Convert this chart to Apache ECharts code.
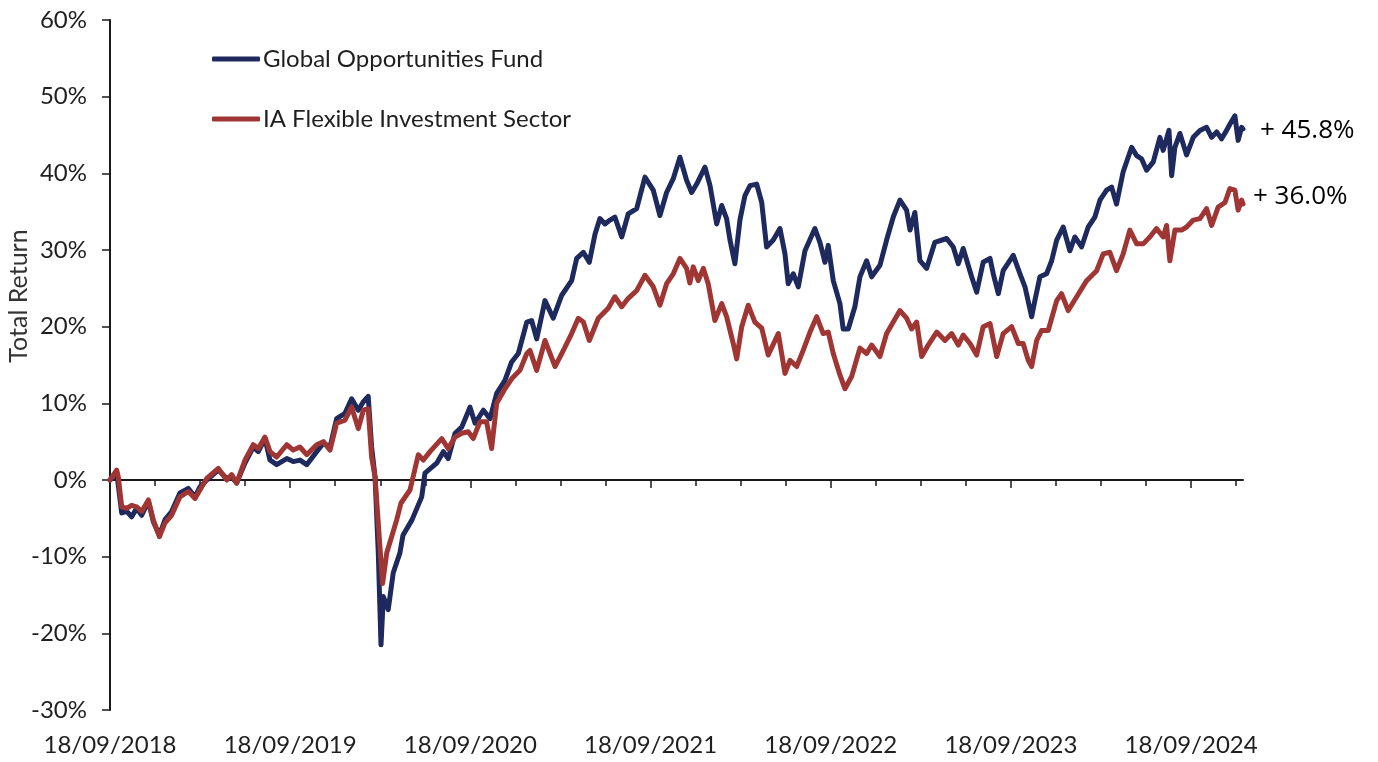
<!DOCTYPE html>
<html>
<head>
<meta charset="utf-8">
<script src="https://cdn.jsdelivr.net/npm/echarts@6/dist/echarts.min.js"></script>
<style>
  html, body { margin: 0; padding: 0; background: #ffffff; }
  #main { width: 1378px; height: 762px; }
</style>
</head>
<body>
<div id="main"></div>
<script>
// ---- Data (x = decimal year, y = total return in %) ----
const seriesNames = ['Global Opportunities Fund', 'IA Flexible Investment Sector'];

const xTickLabels = ['18/09/2018', '18/09/2019', '18/09/2020', '18/09/2021', '18/09/2022', '18/09/2023', '18/09/2024'];
const yTickValues = [-30, -20, -10, 0, 10, 20, 30, 40, 50, 60];
const endLabels = ['+ 45.8%', '+ 36.0%'];

const fundReturns = [
  [2018.712, 0.0], [2018.749, 1.0], [2018.777, -4.3], [2018.805, -4.1], [2018.832, -4.8], [2018.860, -3.7],
  [2018.888, -4.6], [2018.925, -2.8], [2018.952, -5.4], [2018.986, -7.2], [2019.017, -5.2], [2019.054, -4.1],
  [2019.100, -1.7], [2019.147, -1.1], [2019.184, -2.2], [2019.211, -0.9], [2019.249, 0.0], [2019.313, 1.3],
  [2019.360, 0.2], [2019.387, 0.4], [2019.415, -0.4], [2019.461, 2.2], [2019.507, 4.3], [2019.535, 3.7],
  [2019.572, 5.4], [2019.600, 2.6], [2019.637, 2.0], [2019.693, 2.8], [2019.729, 2.4], [2019.766, 2.6],
  [2019.804, 2.0], [2019.859, 3.7], [2019.896, 4.8], [2019.933, 4.3], [2019.970, 8.0], [2020.016, 8.7],
  [2020.053, 10.6], [2020.090, 9.1], [2020.118, 10.2], [2020.145, 10.9], [2020.164, 4.3], [2020.183, 0.4],
  [2020.201, -9.5], [2020.216, -21.5], [2020.229, -15.2], [2020.256, -16.9], [2020.284, -12.1], [2020.321, -9.5],
  [2020.338, -7.2], [2020.388, -5.2], [2020.442, -2.2], [2020.460, 0.9], [2020.525, 2.2], [2020.562, 3.7],
  [2020.589, 2.8], [2020.627, 6.1], [2020.664, 6.9], [2020.710, 9.5], [2020.738, 7.4], [2020.784, 9.1],
  [2020.821, 8.0], [2020.858, 11.3], [2020.904, 13.0], [2020.941, 15.4], [2020.978, 16.5], [2021.025, 20.6],
  [2021.052, 20.8], [2021.080, 18.4], [2021.126, 23.4], [2021.172, 21.1], [2021.219, 24.1], [2021.274, 26.0],
  [2021.302, 28.9], [2021.339, 29.7], [2021.372, 28.4], [2021.404, 32.1], [2021.431, 34.1], [2021.459, 33.4],
  [2021.487, 33.9], [2021.514, 34.3], [2021.552, 31.7], [2021.588, 34.7], [2021.635, 35.4], [2021.681, 39.5],
  [2021.727, 37.8], [2021.764, 34.5], [2021.801, 37.5], [2021.838, 39.3], [2021.875, 42.1], [2021.912, 39.1],
  [2021.940, 37.5], [2021.968, 38.6], [2022.014, 40.8], [2022.042, 38.4], [2022.079, 33.4], [2022.107, 35.8],
  [2022.134, 34.1], [2022.153, 31.3], [2022.180, 28.2], [2022.208, 33.9], [2022.236, 37.1], [2022.264, 38.4],
  [2022.301, 38.6], [2022.329, 36.2], [2022.356, 30.4], [2022.393, 31.3], [2022.430, 32.8], [2022.458, 29.5],
  [2022.476, 25.6], [2022.504, 26.9], [2022.532, 25.2], [2022.569, 29.9], [2022.624, 32.8], [2022.652, 31.0],
  [2022.680, 28.4], [2022.698, 30.6], [2022.726, 26.0], [2022.763, 23.0], [2022.781, 19.7], [2022.809, 19.7],
  [2022.846, 22.6], [2022.874, 26.5], [2022.911, 28.6], [2022.939, 26.5], [2022.985, 28.0], [2023.022, 31.3],
  [2023.059, 34.3], [2023.096, 36.5], [2023.133, 35.2], [2023.152, 32.6], [2023.179, 34.9], [2023.207, 28.6],
  [2023.244, 27.6], [2023.290, 31.0], [2023.355, 31.5], [2023.392, 30.4], [2023.420, 28.2], [2023.447, 30.2],
  [2023.494, 26.5], [2023.522, 24.5], [2023.558, 28.4], [2023.596, 28.9], [2023.614, 26.9], [2023.642, 24.3],
  [2023.669, 27.3], [2023.725, 29.3], [2023.762, 26.9], [2023.790, 25.2], [2023.827, 21.3], [2023.845, 23.4],
  [2023.873, 26.5], [2023.910, 26.9], [2023.938, 28.6], [2023.966, 31.3], [2024.002, 33.0], [2024.039, 29.9],
  [2024.067, 31.7], [2024.104, 30.4], [2024.141, 33.0], [2024.178, 34.3], [2024.206, 36.5], [2024.243, 37.8],
  [2024.271, 38.2], [2024.298, 36.0], [2024.335, 40.2], [2024.382, 43.4], [2024.410, 42.3], [2024.437, 41.9],
  [2024.465, 40.4], [2024.502, 41.5], [2024.539, 44.7], [2024.557, 43.0], [2024.589, 45.6], [2024.604, 39.7],
  [2024.622, 43.4], [2024.650, 45.2], [2024.687, 42.4], [2024.724, 44.7], [2024.761, 45.6], [2024.798, 46.0],
  [2024.826, 44.7], [2024.854, 45.4], [2024.881, 44.5], [2024.909, 45.6], [2024.927, 46.4], [2024.955, 47.5],
  [2024.973, 44.3], [2024.992, 46.0], [2025.000, 45.8]
];

const sectorReturns = [
  [2018.712, 0.0], [2018.749, 1.3], [2018.758, 0.4], [2018.777, -3.5], [2018.805, -3.7], [2018.832, -3.3],
  [2018.860, -3.5], [2018.888, -4.1], [2018.925, -2.6], [2018.952, -5.2], [2018.986, -7.4], [2019.017, -5.6],
  [2019.054, -4.6], [2019.100, -2.2], [2019.147, -1.5], [2019.184, -2.4], [2019.211, -1.3], [2019.249, 0.2],
  [2019.313, 1.5], [2019.360, 0.0], [2019.387, 0.7], [2019.415, -0.4], [2019.461, 2.6], [2019.507, 4.6],
  [2019.535, 4.1], [2019.572, 5.6], [2019.600, 3.7], [2019.637, 3.0], [2019.693, 4.6], [2019.729, 3.9],
  [2019.766, 4.3], [2019.804, 3.3], [2019.859, 4.6], [2019.896, 5.0], [2019.933, 3.9], [2019.970, 7.4],
  [2020.016, 7.8], [2020.053, 9.5], [2020.090, 6.7], [2020.118, 9.1], [2020.145, 9.3], [2020.164, 3.0],
  [2020.183, 0.4], [2020.210, -8.7], [2020.225, -13.5], [2020.248, -9.5], [2020.275, -7.4], [2020.303, -5.2],
  [2020.327, -3.0], [2020.377, -1.3], [2020.423, 3.3], [2020.451, 2.6], [2020.488, 3.7], [2020.553, 5.4],
  [2020.589, 4.1], [2020.627, 5.6], [2020.664, 6.1], [2020.700, 6.3], [2020.728, 5.4], [2020.765, 7.6],
  [2020.802, 7.6], [2020.830, 4.1], [2020.858, 10.0], [2020.904, 11.9], [2020.941, 13.2], [2020.987, 14.3],
  [2021.025, 16.5], [2021.043, 16.9], [2021.080, 14.3], [2021.126, 18.2], [2021.182, 14.8], [2021.228, 16.9],
  [2021.274, 19.1], [2021.311, 21.1], [2021.339, 20.6], [2021.372, 18.2], [2021.422, 21.1], [2021.477, 22.4],
  [2021.514, 23.9], [2021.552, 22.6], [2021.588, 23.7], [2021.635, 24.7], [2021.681, 26.7], [2021.727, 25.2],
  [2021.764, 22.8], [2021.801, 25.6], [2021.838, 26.9], [2021.875, 28.9], [2021.912, 27.6], [2021.930, 25.7],
  [2021.949, 27.8], [2021.977, 26.0], [2022.005, 27.6], [2022.032, 25.6], [2022.069, 20.8], [2022.107, 23.0],
  [2022.134, 21.3], [2022.171, 17.8], [2022.190, 15.8], [2022.218, 20.0], [2022.254, 22.8], [2022.291, 20.6],
  [2022.329, 19.8], [2022.365, 16.3], [2022.421, 19.1], [2022.458, 13.9], [2022.486, 15.6], [2022.523, 14.8],
  [2022.559, 16.9], [2022.597, 19.3], [2022.634, 21.3], [2022.670, 19.1], [2022.698, 19.3], [2022.726, 16.5],
  [2022.763, 13.7], [2022.791, 11.9], [2022.828, 13.5], [2022.874, 17.2], [2022.911, 16.5], [2022.939, 17.6],
  [2022.985, 16.1], [2023.022, 19.1], [2023.059, 20.6], [2023.096, 22.1], [2023.133, 21.1], [2023.161, 19.7],
  [2023.189, 20.6], [2023.217, 16.1], [2023.253, 17.6], [2023.300, 19.3], [2023.346, 18.2], [2023.383, 19.1],
  [2023.420, 17.6], [2023.447, 18.9], [2023.485, 17.8], [2023.522, 16.3], [2023.558, 20.0], [2023.596, 20.4],
  [2023.633, 16.1], [2023.669, 19.1], [2023.716, 20.0], [2023.753, 17.8], [2023.780, 17.8], [2023.808, 15.6],
  [2023.827, 14.8], [2023.855, 18.2], [2023.882, 19.5], [2023.919, 19.5], [2023.966, 23.4], [2023.993, 24.3],
  [2024.030, 22.1], [2024.077, 23.9], [2024.132, 26.0], [2024.188, 27.3], [2024.224, 29.5], [2024.261, 29.7],
  [2024.298, 27.3], [2024.335, 29.5], [2024.372, 32.6], [2024.410, 30.8], [2024.446, 30.8], [2024.483, 31.7],
  [2024.520, 32.8], [2024.557, 31.7], [2024.576, 33.2], [2024.594, 28.6], [2024.622, 32.6], [2024.659, 32.6],
  [2024.687, 33.0], [2024.724, 33.9], [2024.761, 34.1], [2024.798, 35.4], [2024.826, 33.2], [2024.862, 35.6],
  [2024.900, 36.2], [2024.927, 38.0], [2024.955, 37.8], [2024.973, 35.2], [2024.992, 36.5], [2025.000, 36.0]
];

// ---- Axis helpers ----
const X_MIN = 2018.712;
const X_MAX = 2025.0;
const yearPos = xTickLabels.map(s => parseInt(s.split('/')[2], 10) + 0.712);
const quarterPos = [];
for (let k = 1; k <= 25; k++) {
  if (k % 4 !== 0) quarterPos.push(+(X_MIN + 0.25 * k).toFixed(4));
}

const FONT = 'Lato';
const AXIS_COLOR = '#1a1a1a';
const TEXT_COLOR = '#1f1f1f';
const colors = ['#1e2a5e', '#a03633'];

const chart = echarts.init(document.getElementById('main'), null, { renderer: 'canvas' });

const option = {
  backgroundColor: '#ffffff',
  animation: false,
  color: colors,
  grid: { left: 110, right: 135, top: 20, bottom: 52, containLabel: false, outerBoundsMode: 'none' },
  legend: {
    data: seriesNames,
    orient: 'vertical',
    left: 207,
    top: 42,
    itemWidth: 48,
    itemHeight: 5,
    itemGap: 36,
    icon: 'roundRect',
    textStyle: { fontFamily: FONT, fontSize: 24, color: TEXT_COLOR, padding: [0, 0, 0, -2] },
    selectedMode: false
  },
  xAxis: [
    {
      type: 'value', min: X_MIN, max: X_MAX, position: 'bottom',
      axisLine: { show: false, onZero: false },
      axisTick: { show: false },
      splitLine: { show: false },
      axisLabel: {
        customValues: yearPos,
        formatter: function (v) {
          for (let i = 0; i < yearPos.length; i++) {
            if (Math.abs(yearPos[i] - v) < 1e-6) return xTickLabels[i];
          }
          return '';
        },
        fontFamily: FONT, fontSize: 24, color: TEXT_COLOR, margin: 23
      }
    },
    {
      type: 'value', min: X_MIN, max: X_MAX, position: 'bottom',
      axisLine: { show: true, onZero: true, onZeroAxisIndex: 0, lineStyle: { color: AXIS_COLOR, width: 2 } },
      axisTick: { show: true, customValues: quarterPos, length: 6, lineStyle: { color: AXIS_COLOR, width: 1.5 } },
      axisLabel: { show: false },
      splitLine: { show: false }
    },
    {
      type: 'value', min: X_MIN, max: X_MAX, position: 'bottom',
      axisLine: { show: false, onZero: true, onZeroAxisIndex: 0 },
      axisTick: { show: true, customValues: yearPos, length: 8, lineStyle: { color: AXIS_COLOR, width: 1.5 } },
      axisLabel: { show: false },
      splitLine: { show: false }
    }
  ],
  yAxis: {
    type: 'value', min: yTickValues[0], max: yTickValues[yTickValues.length - 1], interval: 10,
    axisLine: { show: true, onZero: false, lineStyle: { color: AXIS_COLOR, width: 2 } },
    axisTick: { show: true, length: 8, lineStyle: { color: AXIS_COLOR, width: 1.5 } },
    axisLabel: { formatter: '{value}%', fontFamily: FONT, fontSize: 24, color: TEXT_COLOR, margin: 23 },
    splitLine: { show: false },
    name: 'Total Return',
    nameLocation: 'middle',
    nameRotate: 90,
    nameGap: 79,
    nameMoveOverlap: false,
    nameTextStyle: { fontFamily: FONT, fontSize: 25, color: '#333333', padding: [0, 0, 0, 138] }
  },
  series: [
    {
      name: seriesNames[0], type: 'line', xAxisIndex: 0, data: fundReturns,
      showSymbol: false, symbol: 'none', smooth: false,
      lineStyle: { width: 5, color: colors[0], join: 'round', cap: 'round' },
      itemStyle: { color: colors[0] },
      endLabel: {
        show: true, formatter: function () { return endLabels[0]; },
        distance: 17, offset: [0, 2],
        fontFamily: 'Open Sans', fontSize: 26, color: '#000000'
      },
      z: 2
    },
    {
      name: seriesNames[1], type: 'line', xAxisIndex: 0, data: sectorReturns,
      showSymbol: false, symbol: 'none', smooth: false,
      lineStyle: { width: 5, color: colors[1], join: 'round', cap: 'round' },
      itemStyle: { color: colors[1] },
      endLabel: {
        show: true, formatter: function () { return endLabels[1]; },
        distance: 10, offset: [0, -7],
        fontFamily: 'Open Sans', fontSize: 26, color: '#000000'
      },
      z: 3
    }
  ]
};

chart.setOption(option);
</script>
</body>
</html>
